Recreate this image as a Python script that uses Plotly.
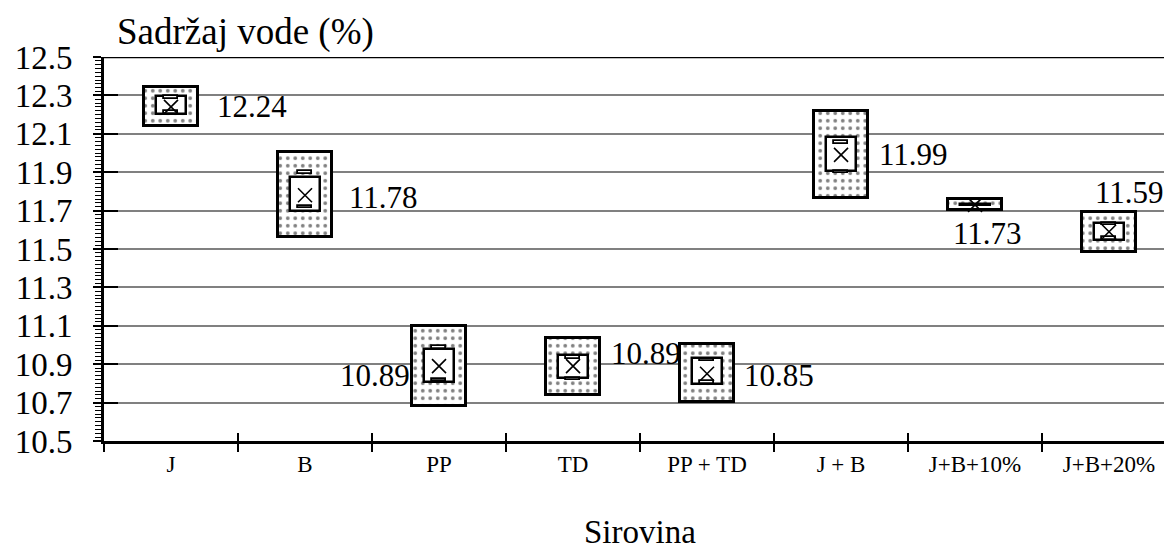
import plotly.graph_objects as go

categories = ["J", "B", "PP", "TD", "PP + TD", "J + B", "J+B+10%", "J+B+20%"]
mean_vals = [12.24, 11.78, 10.89, 10.89, 10.85, 11.99, 11.73, 11.59]
outer_low = [12.14, 11.56, 10.68, 10.74, 10.705, 11.767, 11.705, 11.484]
outer_high = [12.345, 12.005, 11.10, 11.036, 11.004, 12.22, 11.761, 11.695]
inner_low = [12.203, 11.698, 10.809, 10.827, 10.797, 11.906, 11.727, 11.546]
inner_high = [12.297, 11.877, 10.978, 10.95, 10.93, 12.085, 11.735, 11.634]
cap_top = [12.29, 11.897, 10.988, 10.934, 10.922, 12.054, None, 11.63]
cap_bottom = [12.21, 11.719, 10.818, 10.823, 10.804, 11.901, None, 11.556]
value_labels = ["12.24", "11.78", "10.89", "10.89", "10.85", "11.99", "11.73", "11.59"]
y_ticks = [10.5, 10.7, 10.9, 11.1, 11.3, 11.5, 11.7, 11.9, 12.1, 12.3, 12.5]

# label placement styles (anchor, x shift px, y shift px)
label_style = [
    ("left", 44, 0), ("left", 42, -2), ("right", -27, -9), ("left", 36, 13),
    ("left", 35, -2), ("left", 36, 0), ("center", 12, -29), ("left", -16, 39),
]

FONT = "Liberation Serif, Tinos, 'Times New Roman', 'DejaVu Serif', serif"
Y_MIN, Y_MAX = 10.5, 12.5
CAP_H = 0.014

fig = go.Figure()

fig.add_trace(go.Bar(
    x=categories, y=[h - l for h, l in zip(outer_high, outer_low)], base=outer_low,
    width=0.40,
    marker=dict(color="white", line=dict(color="black", width=3),
                pattern=dict(shape=".", fgcolor="black", bgcolor="white", size=7.5, solidity=0.2,
                             fillmode="overlay")),
    hoverinfo="skip", showlegend=False,
))
fig.add_trace(go.Bar(
    x=categories, y=[h - l for h, l in zip(inner_high, inner_low)], base=inner_low,
    width=0.22,
    marker=dict(color="white", line=dict(color="black", width=2.5)),
    hoverinfo="skip", showlegend=False,
))
for caps in (cap_top, cap_bottom):
    fig.add_trace(go.Bar(
        x=categories,
        y=[CAP_H if c is not None else None for c in caps],
        base=[c - CAP_H / 2 if c is not None else None for c in caps],
        width=0.11,
        marker=dict(color="white", line=dict(color="black", width=1.8)),
        hoverinfo="skip", showlegend=False,
    ))
fig.add_trace(go.Scatter(
    x=categories, y=mean_vals, mode="markers",
    marker=dict(symbol="x-thin-open", size=14, line=dict(color="black", width=1.6), color="black"),
    hoverinfo="skip", showlegend=False,
))
# invisible trace to activate overlay axes for crossing ticks
fig.add_trace(go.Scatter(x=[0], y=[Y_MIN], xaxis="x2", yaxis="y2", mode="markers",
                         marker=dict(opacity=0), hoverinfo="skip", showlegend=False))

for i, (cat, lab) in enumerate(zip(categories, value_labels)):
    anchor, dx, dy = label_style[i]
    fig.add_annotation(x=cat, y=mean_vals[i], xref="x", yref="y", text=lab, showarrow=False,
                       xanchor=anchor, yanchor="middle", xshift=dx, yshift=dy,
                       font=dict(family=FONT, size=31, color="black"))

fig.add_annotation(x=(115 - 104) / 1060, y=1 + (57 - 32) / 384, xref="paper", yref="paper",
                   text="Sadržaj vode (%)", showarrow=False, xanchor="left", yanchor="middle",
                   font=dict(family=FONT, size=37, color="black"))
fig.add_annotation(x=(640 - 104) / 1060, y=-(532 - 441) / 384, xref="paper", yref="paper",
                   text="Sirovina", showarrow=False, xanchor="center", yanchor="middle",
                   font=dict(family=FONT, size=33, color="black"))

fig.add_shape(type="line", xref="paper", yref="y", x0=0, x1=1, y0=Y_MAX, y1=Y_MAX,
              line=dict(color="black", width=2.5), layer="above")

fig.update_layout(
    width=1164, height=549,
    margin=dict(l=104, r=0, t=57, b=108),
    paper_bgcolor="white", plot_bgcolor="white",
    barmode="overlay", bargap=0,
    xaxis=dict(type="category", categoryorder="array", categoryarray=categories,
               range=[-0.5, 7.41], tickson="boundaries", ticks="outside", ticklen=8,
               tickwidth=1.5, tickcolor="black", showline=True, linecolor="black", linewidth=3,
               showgrid=False, tickfont=dict(family=FONT, size=23, color="black"),
               ticklabelstandoff=0),
    yaxis=dict(range=[Y_MIN, Y_MAX], tickvals=y_ticks, ticktext=[f"{v:.1f}" for v in y_ticks],
               ticks="outside", ticklen=8, tickwidth=2, tickcolor="black",
               minor=dict(dtick=0.02, tick0=10.5, ticks="outside", ticklen=6, tickwidth=1.2,
                          tickcolor="black", showgrid=False),
               showline=True, linecolor="black", linewidth=3,
               showgrid=True, gridcolor="#808080", gridwidth=1.5,
               tickfont=dict(family=FONT, size=33, color="black"),
               ticklabelstandoff=14, zeroline=False),
    xaxis2=dict(overlaying="x", range=[-0.5, 7.41], tickvals=[i - 0.5 for i in range(9)],
                ticks="inside", ticklen=8, tickwidth=1.5, tickcolor="black",
                showticklabels=False, showgrid=False, showline=False, zeroline=False,
                anchor="y2"),
    yaxis2=dict(overlaying="y", range=[Y_MIN, Y_MAX], tickvals=y_ticks, ticks="inside",
                ticklen=14, tickwidth=2, tickcolor="black", showticklabels=False,
                showgrid=False, showline=False, zeroline=False, anchor="x2", side="left"),
)

fig.write_html("out.html", config={"displayModeBar": False},
               post_script="document.body.style.margin='0px';")
